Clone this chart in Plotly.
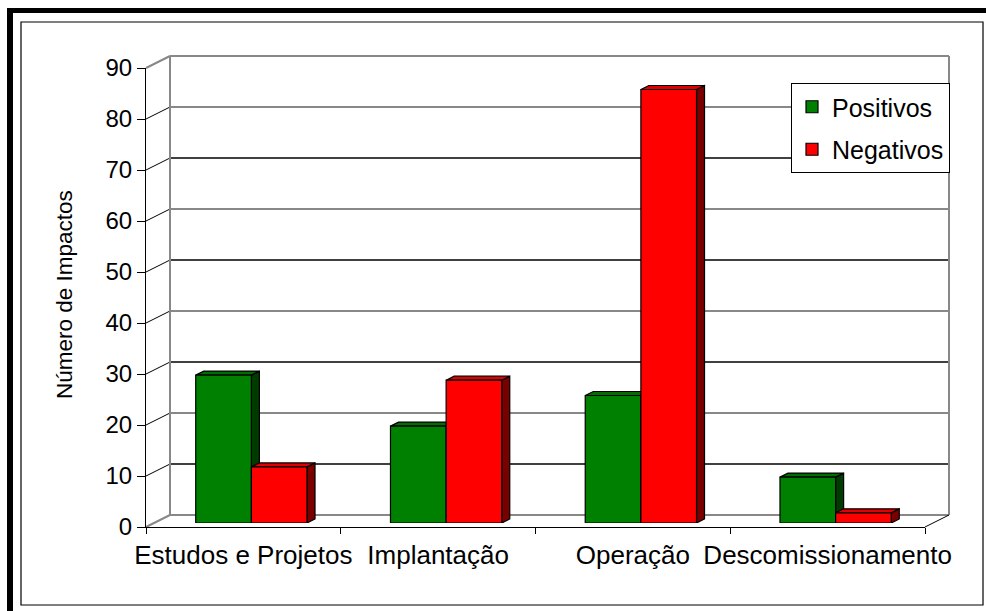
import plotly.graph_objects as go

# ---------------- data ----------------
categories = ["Estudos e Projetos", "Implantação", "Operação", "Descomissionamento"]
positivos = [29, 19, 25, 9]
negativos = [11, 28, 85, 2]
series_names = ["Positivos", "Negativos"]
y_ticks = [0, 10, 20, 30, 40, 50, 60, 70, 80, 90]
y_title = "Número de Impactos"

# ---------------- geometry ----------------
W, H = 986, 611
L, R, T, B = 146, 37, 56, 84
pw = W - L - R
ph = H - T - B
DX, DY = 24, 12          # depth of the 3D box (px)
BX, BY = 8, 4            # bar front plane offset (px)
SX, SY = 8, 4            # bar depth (px)
YMAX = 90
ncat = len(categories)

front_w = pw - DX
front_h = ph - DY
unit_x = front_w / ncat            # px per category
unit_y = front_h / YMAX            # px per value unit

FONT = "Liberation Sans, Arial, sans-serif"
front_col = ["#008000", "#FF0000"]
top_col = ["#006E00", "#E00000"]
side_col = ["#003C00", "#7A0000"]

bargap = 1.5 / 3.5
bw = (1 - bargap) / 2

def px(xp):
    return (xp) / pw

def py(yp):
    return (yp) / ph

def paper_x(pix):
    return (pix - L) / pw

def paper_y(piy):
    return (H - B - piy) / ph

fig = go.Figure()
# invisible trace so that the front (labelled) axes are drawn
fig.add_trace(go.Scatter(x=categories, y=[None] * ncat, xaxis="x", yaxis="y",
                         mode="markers", showlegend=False, hoverinfo="skip"))
for i, (name, vals) in enumerate(zip(series_names, [positivos, negativos])):
    fig.add_trace(go.Bar(
        x=categories, y=vals, name=name, legendgroup=name,
        xaxis="x3", yaxis="y3",
        marker=dict(color=front_col[i], line=dict(color="black", width=1.2)),
    ))

shapes = []

# outer frame (cropped thick frame left/top + inner thin border)
shapes.append(dict(type="rect", xref="paper", yref="paper",
                   x0=paper_x(7), x1=paper_x(13), y0=paper_y(611), y1=paper_y(8),
                   fillcolor="black", line=dict(width=0), layer="above"))
shapes.append(dict(type="rect", xref="paper", yref="paper",
                   x0=paper_x(7), x1=paper_x(986), y0=paper_y(13), y1=paper_y(8),
                   fillcolor="black", line=dict(width=0), layer="above"))
shapes.append(dict(type="rect", xref="paper", yref="paper",
                   x0=paper_x(21), x1=paper_x(983), y0=paper_y(605), y1=paper_y(22),
                   line=dict(color="black", width=1.2), layer="below"))

# back wall gridlines and side-wall diagonals
for v in y_ticks:
    yb = py(DY + v * unit_y)
    yf = py(v * unit_y)
    edge = v in (0, YMAX)
    if not edge:
        odd = (v // 10) % 2 == 1
        shapes.append(dict(type="line", xref="paper", yref="paper",
                           x0=px(DX), x1=1, y0=yb, y1=yb,
                           line=dict(color="black" if odd else "#888888",
                                     width=1.3 if odd else 2),
                           layer="below"))
    shapes.append(dict(type="line", xref="paper", yref="paper",
                       x0=0, x1=px(DX), y0=yf, y1=yb,
                       line=dict(color="#888888" if edge else "black", width=2 if edge else 1),
                       layer="below"))

# back wall edges
wall = "#888888"
shapes += [
    dict(type="line", xref="paper", yref="paper", x0=px(DX), x1=px(DX), y0=py(DY), y1=1,
         line=dict(color=wall, width=2), layer="below"),
    dict(type="line", xref="paper", yref="paper", x0=px(DX), x1=1, y0=1, y1=1,
         line=dict(color=wall, width=2), layer="below"),
    dict(type="line", xref="paper", yref="paper", x0=1, x1=1, y0=py(DY), y1=1,
         line=dict(color=wall, width=2), layer="below"),
    dict(type="line", xref="paper", yref="paper", x0=px(DX), x1=1, y0=py(DY), y1=py(DY),
         line=dict(color=wall, width=2), layer="below"),
    dict(type="line", xref="paper", yref="paper", x0=px(front_w), x1=1, y0=0, y1=py(DY),
         line=dict(color="black", width=1), layer="below"),
]

# 3D faces of bars (in bar-plane data units)
dxu = SX / unit_x
dyu = SY / unit_y
for k in range(ncat):
    for i, vals in enumerate([positivos, negativos]):
        v = vals[k]
        x0 = k - bw + i * bw
        x1 = x0 + bw
        side = (f"M {x1},0 L {x1+dxu},{dyu} L {x1+dxu},{v+dyu} L {x1},{v} Z")
        top = (f"M {x0},{v} L {x1},{v} L {x1+dxu},{v+dyu} L {x0+dxu},{v+dyu} Z")
        shapes.append(dict(type="path", xref="x3", yref="y3", path=side,
                           fillcolor=side_col[i], line=dict(color="black", width=1.2),
                           layer="between"))
        shapes.append(dict(type="path", xref="x3", yref="y3", path=top,
                           fillcolor=top_col[i], line=dict(color="black", width=1.2),
                           layer="between"))

cat_range = [-0.5, ncat - 0.5]

fig.update_layout(
    width=W, height=H,
    margin=dict(l=L, r=R, t=T, b=B, autoexpand=False),
    paper_bgcolor="white", plot_bgcolor="rgba(0,0,0,0)",
    font=dict(family=FONT, color="black", size=25),
    barmode="group", bargap=bargap, bargroupgap=0,
    showlegend=True,
    legend=dict(x=paper_x(791), y=paper_y(83), xanchor="left", yanchor="top",
                bgcolor="white", bordercolor="black", borderwidth=1,
                font=dict(size=25, family=FONT), tracegroupgap=7),
    xaxis=dict(domain=[0, px(front_w)], type="category", categoryarray=categories,
               range=cat_range, tickson="boundaries", ticks="outside", ticklen=6,
               tickcolor="black", showline=True, linecolor="black", linewidth=1,
               showgrid=False, zeroline=False, tickfont=dict(size=26), fixedrange=True,
               tickangle=0, automargin=False, ticklabelstandoff=5, anchor="y"),
    yaxis=dict(domain=[0, py(front_h)], range=[0, YMAX], tickvals=y_ticks,
               ticks="outside", ticklen=8, tickcolor="black", showline=True,
               linecolor="black", linewidth=1, showgrid=False, zeroline=False,
               tickfont=dict(size=24), automargin=False, anchor="x"),
    xaxis2=dict(domain=[px(DX), 1], range=cat_range, visible=False, anchor="y2"),
    yaxis2=dict(domain=[py(DY), 1], range=[0, YMAX], visible=False, anchor="x2"),
    xaxis3=dict(domain=[px(BX), px(BX + front_w)], type="category",
                categoryarray=categories, range=cat_range, visible=False, anchor="y3"),
    yaxis3=dict(domain=[py(BY), py(BY + front_h)], range=[0, YMAX], visible=False,
                anchor="x3"),
    shapes=shapes,
    annotations=[dict(text=y_title, xref="paper", yref="paper",
                      x=paper_x(64), y=paper_y(295), xanchor="center", yanchor="middle",
                      textangle=-90, showarrow=False, font=dict(size=22.5, family=FONT))],
)

fig.write_html("out.html")
